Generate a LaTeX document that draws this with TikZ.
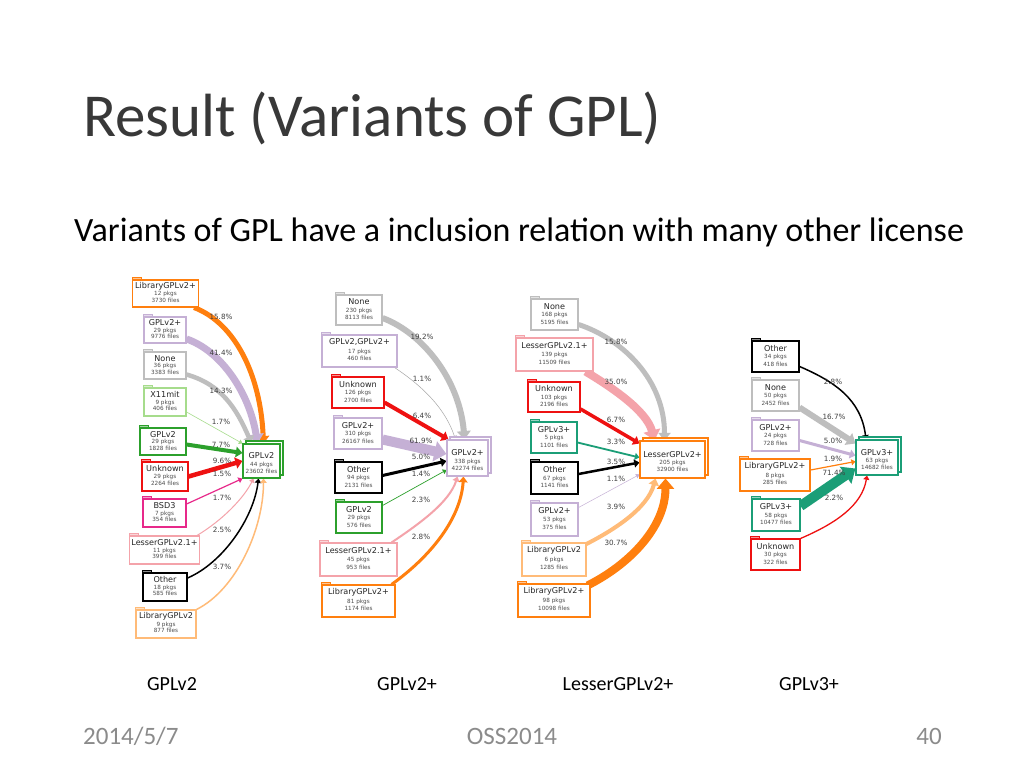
\documentclass[tikz,border=0pt]{standalone}
\usepackage{fontspec}
\setmainfont{Carlito}
\newfontfamily\dv{DejaVu Sans}
\usetikzlibrary{arrows.meta}
\pgfdeclarelayer{back}
\pgfdeclarelayer{bg}
\pgfsetlayers{back,bg,main}
\definecolor{cOrange}{HTML}{FF7F0E}
\definecolor{cLOrange}{HTML}{FFBB78}
\definecolor{cPurple}{HTML}{C5B0D5}
\definecolor{cGray}{HTML}{BEBEBE}
\definecolor{cLGreen}{HTML}{A6DC8C}
\definecolor{cGreen}{HTML}{2CA02C}
\definecolor{cRed}{HTML}{EE1111}
\definecolor{cMag}{HTML}{E7298A}
\definecolor{cPink}{HTML}{F4A3AA}
\definecolor{cTeal}{HTML}{1B9E77}
\definecolor{cFoot}{HTML}{8B8B8B}
\tikzset{
  lboxst/.style={rectangle, line width=1.1pt, fill=white, inner sep=0pt},
  lbl/.style={font=\dv\fontsize{8.1}{10}\selectfont, text=black!85, inner sep=0pt},
  sml/.style={font=\dv\fontsize{5.7}{7}\selectfont, text=black!70, inner sep=0pt},
  pct/.style={font=\dv\fontsize{7.2}{8}\selectfont, text=black!75, inner sep=0pt},
  edge/.style={-{Triangle[length=3pt 0.9, width=4pt 1.6]}},
  slide/.style={inner sep=0pt, anchor=base},
}
% source box: name, cx, cy, w, h, color, label, pkgs, files
\newcommand\lbox[9]{%
  \node[lboxst, draw=#6, minimum width=#4, minimum height=#5] (#1) at (#2,#3) {};
  \filldraw[draw=#6, fill=#6!45, line width=0.8pt] (#1.north west) rectangle ++(9,-2.2);
  \node[lbl] (#1-l) at ([yshift=-0.25*#5]#1.north) {#7};
  \node[sml] (#1-p) at ([yshift=-0.54*#5]#1.north) {#8 pkgs};
  \node[sml] (#1-f) at ([yshift=-0.76*#5]#1.north) {#9 files};
}
% target box
\newcommand\tbox[9]{%
  \node[lboxst, draw=#6, minimum width=#4, minimum height=#5] (#1-b) at (#2+3,#3-3) {};
  \node[lboxst, draw=#6, minimum width=#4, minimum height=#5] (#1) at (#2,#3) {};
  \node[lbl] (#1-l) at ([yshift=5]#1.center) {#7};
  \node[sml] (#1-p) at ([yshift=-3.5]#1.center) {#8 pkgs};
  \node[sml] (#1-f) at ([yshift=-10]#1.center) {#9 files};
}
\begin{document}
\begin{tikzpicture}[x=1pt,y=-1pt]
\begin{pgfonlayer}{back}
\fill[white] (0,0) rectangle (1024,768);
\end{pgfonlayer}
\useasboundingbox (0,0) rectangle (1024,768);

% slide texts
\node[slide, anchor=base west, font=\fontsize{61}{70}\selectfont, text=black!78] (title) at (83,136) {Result (Variants of GPL)};
\node[slide, anchor=base west, font=\fontsize{34}{40}\selectfont, text=black] (sub) at (74,241) {Variants of GPL have a inclusion relation with many other license};
\node[slide, font=\fontsize{20}{24}\selectfont] (cap1) at (172,690) {GPLv2};
\node[slide, font=\fontsize{20}{24}\selectfont] (cap2) at (407,690) {GPLv2+};
\node[slide, font=\fontsize{20}{24}\selectfont] (cap3) at (618,690) {LesserGPLv2+};
\node[slide, font=\fontsize{20}{24}\selectfont] (cap4) at (809,690) {GPLv3+};
\node[slide, anchor=base west, font=\fontsize{25}{30}\selectfont, text=cFoot] (date) at (83,744) {2014/5/7};
\node[slide, font=\fontsize{25}{30}\selectfont, text=cFoot] (conf) at (512,744) {OSS2014};
\node[slide, anchor=base east, font=\fontsize{25}{30}\selectfont, text=cFoot] (page) at (942,744) {40};

% ---------------- Diagram 1: GPLv2 ----------------
\lbox{d1a}{165.5}{293.5}{66}{27}{cOrange}{LibraryGPLv2+}{12}{3730}
\lbox{d1b}{165}{330}{42}{26}{cPurple}{GPLv2+}{29}{9776}
\lbox{d1c}{165}{365.5}{42}{27}{cGray}{None}{36}{3383}
\lbox{d1d}{165}{402}{42}{28}{cLGreen}{X11mit}{9}{406}
\lbox{d1e}{163}{441.5}{46}{27}{cGreen}{GPLv2}{29}{1828}
\lbox{d1f}{165}{476.5}{46}{29}{cRed}{Unknown}{29}{2264}
\lbox{d1g}{164.5}{513}{43}{28}{cMag}{BSD3}{7}{354}
\lbox{d1h}{164.5}{550}{70}{28}{cPink}{LesserGPLv2.1+}{11}{399}
\lbox{d1i}{165}{587}{44}{28}{black}{Other}{18}{585}
\lbox{d1j}{166}{624}{60}{28}{cLOrange}{LibraryGPLv2}{9}{877}
\tbox{t1}{261.5}{461}{37}{34}{cGreen}{GPLv2}{44}{23602}

\begin{pgfonlayer}{bg}
\draw[edge, line width=5pt, cOrange] ([xshift=-5pt]d1a.south east) .. controls +(40,15) and +(-3,-70) .. ([xshift=2pt]t1.north);
\draw[edge, line width=7pt, cPurple] ([yshift=-9pt]d1b.east) .. controls +(35,12) and +(-8,-50) .. ([xshift=-4pt]t1.north);
\draw[edge, line width=4.5pt, cGray] ([yshift=-9pt]d1c.east) .. controls +(35,10) and +(-15,-35) .. ([xshift=-10pt]t1.north);
\draw[edge, line width=0.6pt, cLGreen] ([yshift=-10pt]d1d.east) -- (t1.north west);
\draw[edge, line width=4pt, cGreen] ([yshift=-3pt]d1e.east) -- ([yshift=8pt]t1.west);
\draw[edge, line width=4.5pt, cRed] (d1f.east) -- (t1.west);
\draw[edge, line width=1.2pt, cMag] ([yshift=9pt]d1g.east) -- (t1.south west);
\draw[edge, line width=1pt, cPink] ([xshift=-3pt]d1h.north east) .. controls +(25,-15) and +(-10,20) .. ([xshift=-8pt]t1.south);
\draw[edge, line width=1.5pt, black] ([yshift=9pt]d1i.east) .. controls +(35,-15) and +(-5,40) .. ([xshift=-3pt]t1.south);
\draw[edge, line width=1.5pt, cLOrange] (d1j.north east) .. controls +(40,-20) and +(0,50) .. ([xshift=2pt]t1.south);
\end{pgfonlayer}

\node[pct] (p1a) at (221,317) {15.8\%};
\node[pct] (p1b) at (221,353) {41.4\%};
\node[pct] (p1c) at (221,391) {14.3\%};
\node[pct] (p1d) at (221,422) {1.7\%};
\node[pct] (p1e) at (221,445) {7.7\%};
\node[pct] (p1f) at (222,461) {9.6\%};
\node[pct] (p1g) at (222,474) {1.5\%};
\node[pct] (p1h) at (222,498) {1.7\%};
\node[pct] (p1i) at (222,530) {2.5\%};
\node[pct] (p1j) at (222,567) {3.7\%};

% ---------------- Diagram 2: GPLv2+ ----------------
\lbox{d2a}{359}{310}{46}{30}{cGray}{None}{230}{8113}
\lbox{d2b}{359.5}{351}{75}{32}{cPurple}{GPLv2,GPLv2+}{17}{460}
\lbox{d2c}{358}{392.5}{52}{31}{cRed}{Unknown}{126}{2700}
\lbox{d2d}{358}{433.5}{48}{31}{cPurple}{GPLv2+}{310}{26167}
\lbox{d2e}{358.5}{477.5}{47}{31}{black}{Other}{94}{2131}
\lbox{d2f}{359}{517.5}{46}{31}{cGreen}{GPLv2}{29}{576}
\lbox{d2g}{358.5}{559.5}{77}{33}{cPink}{LesserGPLv2.1+}{45}{953}
\lbox{d2h}{358.5}{601}{73}{32}{cOrange}{LibraryGPLv2+}{81}{1174}
\tbox{t2}{467.5}{458}{41}{36}{cPurple}{GPLv2+}{338}{42274}

\begin{pgfonlayer}{bg}
\draw[edge, line width=6pt, cGray] ([yshift=-8pt]d2a.east) .. controls +(40,15) and +(-5,-60) .. ([xshift=-3pt]t2.north);
\draw[edge, line width=0.5pt, black!35] ([xshift=-3pt]d2b.south east) .. controls +(30,20) and +(-10,-30) .. ([xshift=-12pt]t2.north);
\draw[edge, line width=4pt, cRed] ([yshift=-10pt]d2c.east) -- ([xshift=2pt]t2.north west);
\draw[edge, line width=10pt, cPurple] ([yshift=-6pt]d2d.east) -- ([yshift=4pt]t2.west);
\draw[edge, line width=3pt, black] ([yshift=2pt]d2e.east) -- ([yshift=-3pt]t2.west);
\draw[edge, line width=0.7pt, cGreen] ([yshift=12pt]d2f.east) -- ([yshift=-12pt]t2.west);
\draw[edge, line width=2pt, cPink] ([xshift=-6pt]d2g.north east) .. controls +(30,-20) and +(-8,25) .. ([xshift=-10pt]t2.south);
\draw[edge, line width=3pt, cOrange] ([xshift=-4pt]d2h.north east) .. controls +(35,-25) and +(-3,45) .. ([xshift=-4pt]t2.south);
\end{pgfonlayer}

\node[pct] (p2a) at (422,337) {19.2\%};
\node[pct] (p2b) at (422,379) {1.1\%};
\node[pct] (p2c) at (422,416) {6.4\%};
\node[pct] (p2d) at (421,441) {61.9\%};
\node[pct] (p2e) at (421,457) {5.0\%};
\node[pct] (p2f) at (421,474) {1.4\%};
\node[pct] (p2g) at (421,500) {2.3\%};
\node[pct] (p2h) at (421,537) {2.8\%};

% ---------------- Diagram 3: LesserGPLv2+ ----------------
\lbox{d3a}{554.5}{314.5}{47}{31}{cGray}{None}{168}{5195}
\lbox{d3b}{554.5}{354.5}{77}{33}{cPink}{LesserGPLv2.1+}{139}{11509}
\lbox{d3c}{554}{397}{52}{30}{cRed}{Unknown}{103}{2196}
\lbox{d3d}{554}{437.5}{46}{31}{cTeal}{GPLv3+}{5}{1101}
\lbox{d3e}{554.5}{478}{47}{32}{black}{Other}{67}{1141}
\lbox{d3f}{554.5}{519.5}{47}{33}{cPurple}{GPLv2+}{53}{375}
\lbox{d3g}{554}{559.5}{64}{33}{cLOrange}{LibraryGPLv2}{6}{1285}
\lbox{d3h}{554}{600.5}{72}{33}{cOrange}{LibraryGPLv2+}{98}{10098}
\tbox{t3}{672.5}{459.5}{65}{37}{cOrange}{LesserGPLv2+}{205}{32900}

\begin{pgfonlayer}{bg}
\draw[edge, line width=5pt, cGray] ([yshift=-10pt]d3a.east) .. controls +(45,15) and +(0,-60) .. ([xshift=-8pt]t3.north);
\draw[edge, line width=8pt, cPink] ([xshift=-8pt]d3b.south east) .. controls +(25,15) and +(-8,-30) .. ([xshift=-18pt]t3.north);
\draw[edge, line width=3.5pt, cRed] ([yshift=-12pt]d3c.east) -- ([yshift=16pt]t3.west);
\draw[edge, line width=1.8pt, cTeal] ([yshift=-5pt]d3d.east) -- ([yshift=2pt]t3.west);
\draw[edge, line width=2.5pt, black] ([yshift=4pt]d3e.east) -- ([yshift=-3pt]t3.west);
\draw[edge, line width=0.5pt, cPurple] ([yshift=12pt]d3f.east) -- ([yshift=-15pt]t3.west);
\draw[edge, line width=4pt, cLOrange] ([xshift=-3pt,yshift=-3pt]d3g.north east) .. controls +(30,-15) and +(-8,30) .. ([xshift=-17pt]t3.south);
\draw[edge, line width=8pt, cOrange] ([xshift=-3pt,yshift=-2pt]d3h.north east) .. controls +(40,-20) and +(0,50) .. ([xshift=-7pt]t3.south);
\end{pgfonlayer}

\node[pct] (p3a) at (616,342) {15.8\%};
\node[pct] (p3b) at (616,382) {35.0\%};
\node[pct] (p3c) at (616,420) {6.7\%};
\node[pct] (p3d) at (616,442) {3.3\%};
\node[pct] (p3e) at (616,462) {3.5\%};
\node[pct] (p3f) at (616,479) {1.1\%};
\node[pct] (p3g) at (616,507) {3.9\%};
\node[pct] (p3h) at (616,543) {30.7\%};

% ---------------- Diagram 4: GPLv3+ ----------------
\lbox{d4a}{775.5}{356.5}{47}{31}{black}{Other}{34}{418}
\lbox{d4b}{775.5}{395.5}{47}{31}{cGray}{None}{50}{2452}
\lbox{d4c}{775.5}{435.5}{47}{31}{cPurple}{GPLv2+}{24}{728}
\lbox{d4d}{775}{475}{70}{32}{cOrange}{LibraryGPLv2+}{8}{285}
\lbox{d4e}{776}{515}{48}{32}{cTeal}{GPLv3+}{58}{10477}
\lbox{d4f}{775.5}{554.5}{49}{31}{cRed}{Unknown}{30}{322}
\tbox{t4}{877}{457.5}{42}{35}{cTeal}{GPLv3+}{63}{14682}

\begin{pgfonlayer}{bg}
\draw[edge, line width=1.5pt, black] ([yshift=-10pt]d4a.east) .. controls +(35,15) and +(-5,-40) .. ([xshift=-11pt]t4.north);
\draw[edge, line width=6pt, cGray] ([yshift=-12pt]d4b.east) -- ([yshift=14pt]t4.west);
\draw[edge, line width=3pt, cPurple] ([yshift=-5pt]d4c.east) -- ([yshift=2pt]t4.west);
\draw[edge, line width=1.2pt, cOrange] ([yshift=5pt]d4d.east) -- ([yshift=-4pt]t4.west);
\draw[edge, line width=10pt, cTeal] ([yshift=9pt]d4e.east) -- ([yshift=-11pt]t4.west);
\draw[edge, line width=1.3pt, cRed] (d4f.north east) .. controls +(35,-15) and +(-5,30) .. ([xshift=-10pt]t4.south);
\end{pgfonlayer}

\node[pct] (p4a) at (833,382) {2.8\%};
\node[pct] (p4b) at (834,417) {16.7\%};
\node[pct] (p4c) at (833,441) {5.0\%};
\node[pct] (p4d) at (833,459) {1.9\%};
\node[pct] (p4e) at (834,473) {71.4\%};
\node[pct] (p4f) at (834,498) {2.2\%};
\end{tikzpicture}
\end{document}
